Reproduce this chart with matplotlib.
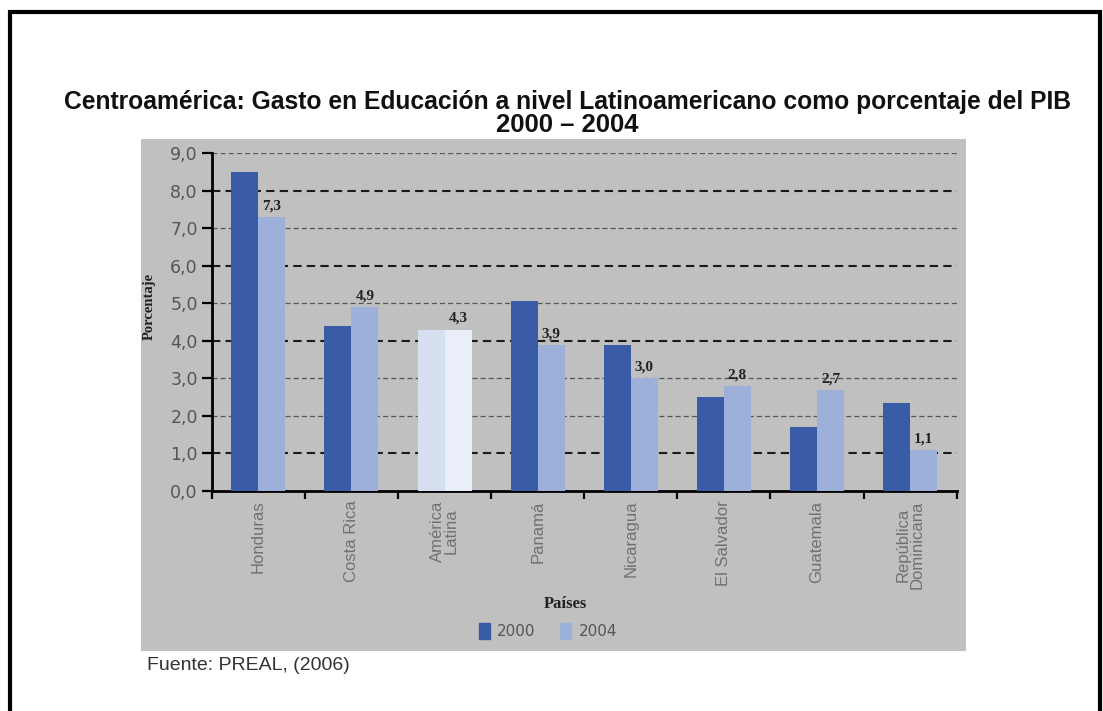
import matplotlib.pyplot as plt
from matplotlib.patches import Rectangle
import numpy as np

# data
paises = ['Honduras', 'Costa Rica', 'América\nLatina', 'Panamá', 'Nicaragua',
          'El Salvador', 'Guatemala', 'República\nDominicana']
gasto_2000 = [8.5, 4.4, 4.3, 5.05, 3.9, 2.5, 1.7, 2.35]
gasto_2004 = [7.3, 4.9, 4.3, 3.9, 3.0, 2.8, 2.7, 1.1]
yticks = [0, 1, 2, 3, 4, 5, 6, 7, 8, 9]

c2000 = '#3a5ba6'
c2004 = '#9cb0d9'
c2000_al = '#d6dfef'
c2004_al = '#e9eef8'
gris = '#c0c0c0'

narrow = ['Liberation Sans Narrow', 'DejaVu Sans']
sans = ['Liberation Sans', 'DejaVu Sans']
serif = ['Liberation Serif', 'DejaVu Serif']


def coma(v):
    return f'{v:.1f}'.replace('.', ',')


def main():
    W, H = 1103, 711
    fig = plt.figure(figsize=(W / 100, H / 100), dpi=100)

    # outer black frame and grey panel
    fig.patches.append(Rectangle((10 / W, -0.05), 1090 / W, (H - 12) / H + 0.05,
                                 transform=fig.transFigure, fill=False,
                                 edgecolor='black', linewidth=3, zorder=-2))
    fig.patches.append(Rectangle((141 / W, (H - 651) / H), 825 / W, 512 / H,
                                 transform=fig.transFigure, facecolor=gris,
                                 edgecolor='none', zorder=-1))

    fig.text(567 / W, 1 - 102 / H,
             'Centroamérica: Gasto en Educación a nivel Latinoamericano como porcentaje del PIB',
             ha='center', va='center', fontsize=17.7, fontweight='bold',
             family=sans, color='#111111')
    fig.text(567 / W, 1 - 125 / H, '2000 – 2004', ha='center', va='center',
             fontsize=18.5, fontweight='bold', family=sans, color='#111111')

    ax = fig.add_axes([211.7 / W, (H - 491) / H, 745 / W, (491 - 153) / H])
    ax.set_facecolor('none')

    x = np.arange(len(paises))
    bw = 0.29
    col_a = [c2000_al if 'América' in p else c2000 for p in paises]
    col_b = [c2004_al if 'América' in p else c2004 for p in paises]
    b1 = ax.bar(x - bw / 2, gasto_2000, bw, color=col_a, zorder=3, label='2000')
    b2 = ax.bar(x + bw / 2, gasto_2004, bw, color=col_b, zorder=3, label='2004')

    for xi, v in zip(x, gasto_2004):
        ax.text(xi + bw / 2, v + 0.12, coma(v), ha='center', va='bottom',
                fontsize=11, fontweight='bold', family=serif, color='#222222')

    # dashed grid, alternating strength like the scan
    for t in yticks[1:]:
        oscura = t in (1, 4, 6, 8)
        ax.axhline(t, color='#1a1a1a' if oscura else '#555555',
                   linewidth=1.5 if oscura else 0.9, linestyle=(0, (4, 2.5)),
                   zorder=1)

    ax.set_xlim(-0.5, len(paises) - 0.5)
    ax.set_ylim(0, 9)
    ax.set_yticks(yticks)
    ax.set_yticklabels([coma(t) for t in yticks], family=narrow,
                       fontsize=12.5, color='#555555')
    ax.tick_params(axis='y', direction='out', length=7, width=1.6,
                   color='black', pad=3)

    ax.set_xticks(x)
    ax.set_xticklabels(paises, rotation=90, family=sans, fontsize=12,
                       color='#707070', va='top', ha='center', linespacing=0.85)
    ax.tick_params(axis='x', length=0, pad=7)
    ax.set_xticks(np.arange(len(paises) + 1) - 0.5, minor=True)
    ax.tick_params(axis='x', which='minor', direction='out', length=6,
                   width=1.6, color='black')

    for s in ('top', 'right'):
        ax.spines[s].set_visible(False)
    for s in ('left', 'bottom'):
        ax.spines[s].set_linewidth(2)
        ax.spines[s].set_color('black')

    fig.text(149 / W, 1 - 306 / H, 'Porcentaje', rotation=90, ha='center',
             va='center', fontsize=10.5, fontweight='bold', family=serif,
             color='#222222')
    fig.text(565 / W, 1 - 604 / H, 'Países', ha='center', va='center',
             fontsize=12, fontweight='bold', family=serif, color='#222222')

    leg = fig.legend(handles=[b1, b2], labels=['2000', '2004'], ncol=2,
                     loc='center', bbox_to_anchor=(548 / W, 1 - 631 / H),
                     frameon=False, handlelength=0.7, handleheight=1.3,
                     handletextpad=0.5, columnspacing=1.6,
                     prop={'family': narrow, 'size': 11})
    for t in leg.get_texts():
        t.set_color('#555555')
    leg.legend_handles[0].set_color(c2000)
    leg.legend_handles[1].set_color(c2004)

    fig.text(147 / W, 1 - 666 / H, 'Fuente: PREAL, (2006)', ha='left',
             va='center', fontsize=14, family=sans, color='#333333')

    fig.savefig('out.png', dpi=100, facecolor='white')


if __name__ == '__main__':
    main()
